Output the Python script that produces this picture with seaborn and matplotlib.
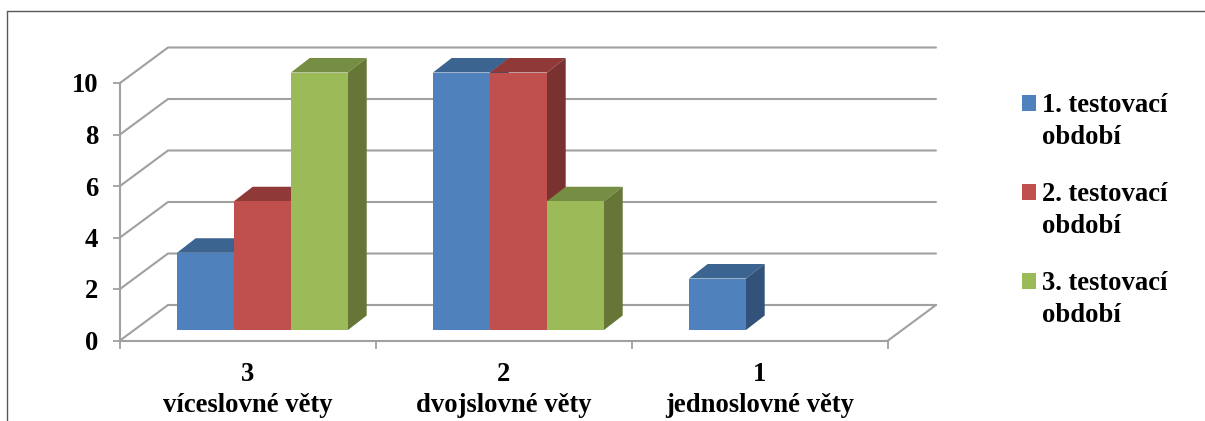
import matplotlib
matplotlib.use("Agg")
import matplotlib.pyplot as plt
import pandas as pd
import seaborn as sns
from matplotlib.legend_handler import HandlerPatch
from matplotlib.lines import Line2D
from matplotlib.patches import Patch, Polygon, Rectangle

# Values
categories = ["3\nvíceslovné věty", "2\ndvojslovné věty", "1\njednoslovné věty"]
series_names = ["1. testovací\nobdobí", "2. testovací\nobdobí", "3. testovací\nobdobí"]
period_1 = [3, 10, 2]
period_2 = [5, 10, 0]
period_3 = [10, 5, 0]
y_ticks = [0, 2, 4, 6, 8, 10]

# Face colours: front, top, side
front_colors = ["#4F81BD", "#C0504D", "#9BBB59"]
top_colors = ["#3C6491", "#8F3A38", "#768E43"]
side_colors = ["#32527A", "#7A3230", "#657637"]
GRID = "#A0A0A0"
FONT = "Liberation Serif"
FS = 19.2

W, H = 1205, 421
sns.set_theme(style="white")
plt.rcParams["font.family"] = FONT
plt.rcParams["font.weight"] = "bold"

fig = plt.figure(figsize=(W / 100, H / 100), dpi=100, facecolor="white")
ax = fig.add_axes([120 / W, (H - 340.5) / H, 768 / W, 257.5 / H])

df = pd.DataFrame({
    "kategorie": categories * 3,
    "hodnota": period_1 + period_2 + period_3,
    "obdobi": [s for s in series_names for _ in categories],
})
sns.barplot(data=df, x="kategorie", y="hodnota", hue="obdobi", hue_order=series_names,
            order=categories, palette=front_colors, saturation=1, width=0.668, gap=0,
            legend=False, ax=ax)

ax.set_xlim(-0.5, 2.5)
ax.set_ylim(0, 10)

# Oblique depth of the chart box, in data units
BOX_DX, BOX_DY = 48 / 256, 35.5 / 25.75
# Position of the bars' front plane and the depth of a bar
PLANE_DX, PLANE_DY = 14.5 / 256, 10.5 / 25.75
BAR_DX, BAR_DY = 18.7 / 256, 14.5 / 25.75

# Back wall, oblique wall and floor lines
for v in y_ticks:
    ax.plot([-0.5, -0.5 + BOX_DX, 2.5 + BOX_DX], [v, v + BOX_DY, v + BOX_DY],
            color=GRID, lw=1.5, clip_on=False, zorder=1, solid_joinstyle="miter")
ax.plot([2.5, 2.5 + BOX_DX], [0, BOX_DY], color=GRID, lw=1.5, clip_on=False, zorder=1)

# Bars: shift the front faces onto their plane, then add top and side faces
for s, container in enumerate(ax.containers):
    for bar in container:
        value = bar.get_height()
        x0 = bar.get_x() + PLANE_DX
        x1 = x0 + bar.get_width()
        y0 = PLANE_DY
        y1 = y0 + value
        bar.set_x(x0)
        bar.set_y(y0)
        bar.set_clip_on(False)
        bar.set_linewidth(0)
        bar.set_zorder(3 + s * 3 + 2)
        if value <= 0:
            bar.set_visible(False)
            continue
        top = Polygon([(x0, y1), (x0 + BAR_DX, y1 + BAR_DY), (x1 + BAR_DX, y1 + BAR_DY), (x1, y1)],
                      closed=True, fc=top_colors[s], lw=0, clip_on=False, zorder=3 + s * 3)
        side = Polygon([(x1, y0), (x1 + BAR_DX, y0 + BAR_DY), (x1 + BAR_DX, y1 + BAR_DY), (x1, y1)],
                       closed=True, fc=side_colors[s], lw=0, clip_on=False, zorder=3 + s * 3 + 1)
        ax.add_patch(top)
        ax.add_patch(side)

# Axes, ticks and labels
for name in ("top", "right"):
    ax.spines[name].set_visible(False)
for name in ("left", "bottom"):
    ax.spines[name].set_color(GRID)
    ax.spines[name].set_linewidth(1.5)
    ax.spines[name].set_zorder(2)
ax.set_xlabel("")
ax.set_ylabel("")
ax.set_yticks(y_ticks)
ax.set_xticks([-0.5, 0.5, 1.5, 2.5], labels=[])
ax.set_xticks([0, 1, 2], labels=categories, minor=True)
ax.tick_params(axis="y", which="major", left=True, length=5, width=1.3, color=GRID,
               labelsize=FS, pad=10.5, labelcolor="black")
ax.tick_params(axis="x", which="major", bottom=True, length=5.5, width=1.3, color=GRID)
ax.tick_params(axis="x", which="minor", bottom=False, length=0, labelsize=FS, pad=15.5,
               labelcolor="black")
for label in ax.get_yticklabels() + ax.get_xticklabels(minor=True):
    label.set_fontfamily(FONT)
    label.set_fontweight("bold")
for label in ax.get_xticklabels(minor=True):
    label.set_linespacing(1.34)
ax.patch.set_alpha(0)


# Legend swatches sit beside the first line of each wrapped label
def first_line_swatch(legend, orig_handle, xdescent, ydescent, width, height, fontsize):
    return Rectangle((-xdescent, -ydescent + 13.5), width, height)


handles = [Patch(facecolor=c, edgecolor="none") for c in front_colors]
ax.legend(handles, series_names, loc="center left",
          bbox_to_anchor=(1022 / W, (H - 210.5) / H), bbox_transform=fig.transFigure,
          frameon=False, prop={"family": FONT, "weight": "bold", "size": FS},
          labelcolor="black", labelspacing=1.22, handlelength=0.52, handleheight=0.52,
          handletextpad=0.23, borderpad=0, borderaxespad=0,
          handler_map={Patch: HandlerPatch(patch_func=first_line_swatch)})
for text in ax.get_legend().get_texts():
    text.set_linespacing(1.34)

# Chart frame running off the right and bottom edges
frame = "#595959"
fig.add_artist(Line2D([6.5 / W, 1], [(H - 10.5) / H, (H - 10.5) / H], color=frame, lw=1.0))
fig.add_artist(Line2D([6.5 / W, 6.5 / W], [(H - 10.5) / H, 0], color=frame, lw=1.0))

fig.savefig("out.png", dpi=100, facecolor="white")
